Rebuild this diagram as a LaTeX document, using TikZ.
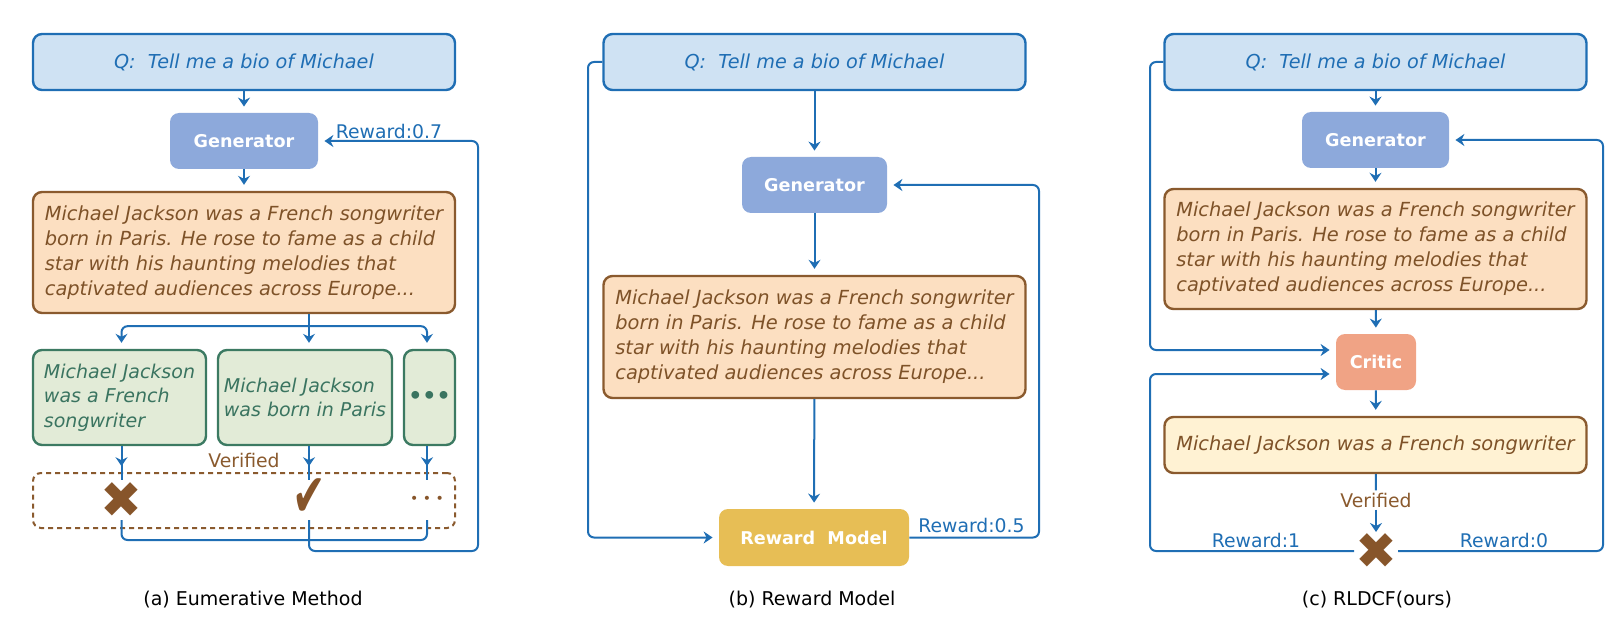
\documentclass[tikz,border=0pt]{standalone}
\usepackage{fontspec}
\setmainfont{DejaVu Sans}
\usetikzlibrary{arrows.meta,calc}
\definecolor{lblue}{HTML}{1F6EB4}
\definecolor{qfill}{HTML}{CFE2F3}
\definecolor{genfill}{HTML}{8DA9DB}
\definecolor{ofill}{HTML}{FCDFC1}
\definecolor{bbrown}{HTML}{8A5A2E}
\definecolor{tbrown}{HTML}{7E5228}
\definecolor{gfill}{HTML}{E2EBD7}
\definecolor{gborder}{HTML}{3C7A62}
\definecolor{gtext}{HTML}{3A7460}
\definecolor{gold}{HTML}{E7BE55}
\definecolor{critic}{HTML}{F0A385}
\definecolor{yfill}{HTML}{FFF2D3}
\definecolor{mbrown}{HTML}{87552A}
\begin{document}
\begin{tikzpicture}[x=0.5pt,y=-0.5pt,
 line/.style={draw=lblue, line width=1pt},
 arr/.style={line, -{Stealth[length=4.5pt,width=6pt,inset=1.5pt]}, shorten >=3pt},
 rc/.style={rounded corners=3pt},
 qbox/.style={draw=lblue, fill=qfill, line width=1.2pt, rounded corners=4.5pt, text=lblue, font=\fontsize{9.6}{12}\selectfont\itshape, minimum width=211pt, minimum height=28pt, inner sep=0pt},
 genbox/.style={fill=genfill, rounded corners=4.5pt, text=white, font=\fontsize{8.8}{10}\selectfont\bfseries, minimum height=28pt, inner sep=0pt},
 obox/.style={draw=bbrown, fill=ofill, line width=1.2pt, rounded corners=4.5pt, text=tbrown, font=\fontsize{9.7}{12.5}\selectfont\itshape, align=left, minimum width=211pt, inner sep=0pt},
 gbox/.style={draw=gborder, fill=gfill, line width=1.2pt, rounded corners=4.5pt, text=gtext, font=\fontsize{9.5}{12.3}\selectfont\itshape, align=left, minimum height=47.5pt, inner sep=0pt},
 lab/.style={text=lblue, font=\fontsize{9.4}{10}\selectfont, inner sep=0pt},
 ver/.style={text=bbrown, font=\fontsize{9.4}{10}\selectfont, inner sep=1pt},
 captext/.style={text=black, font=\fontsize{9.5}{10}\selectfont},
 xmark/.style={text=mbrown, font=\fontsize{25}{25}\selectfont, minimum width=20pt, minimum height=20pt, inner sep=0pt},
]
\useasboundingbox (0,0) rectangle (1614,626);
% ---------------- panel (a)
\node[qbox] (qa) at (244,62) {Q:\ \ Tell me a bio of Michael};
\node[genbox, minimum width=74pt] (gena) at (244,141) {Generator};
\node[obox, minimum height=60.5pt] (oa) at (244,252.5) {Michael Jackson was a French songwriter\\born in Paris. He rose to fame as a child\\star with his haunting melodies that\\captivated audiences across Europe...};
\node[gbox, minimum width=86.5pt] (g1) at (119.5,397.5) {Michael Jackson\\was a French\\songwriter};
\node[gbox, minimum width=87pt] (g2) at (305,397.5) {Michael Jackson\\was born in Paris};
\node[gbox, minimum width=25.5pt, font=\fontsize{11}{12}\selectfont\bfseries] (g3) at (429.5,397.5) {•••};
\node[draw=bbrown, dashed, dash pattern=on 2.5pt off 2pt, line width=1pt, rounded corners=4pt, minimum width=211pt, minimum height=27.5pt, inner sep=0pt] (da) at (244,500.5) {};
\node[ver] (vera) at (244,460) {Verified};
\node[xmark] (x1) at (121.5,500) {✖};
\node[xmark, font=\fontsize{20}{20}\selectfont] (c1) at (309,498) {\scalebox{1}[1.5]{✔}};
\node[xmark, font=\fontsize{7}{7}\selectfont] (d1) at (427,500) {• • •};
\node[lab] (rwa) at (389,131) {Reward:0.7};
\node[captext] (capa) at (253,600) {(a) Eumerative Method};
\draw[arr] (qa) -- (gena);
\draw[arr] (gena) -- (oa);
\draw[line] (oa.south -| c1) -- ++(0,12) coordinate (bra);
\draw[arr, rc] (bra) -| (x1 |- g1.north);
\draw[arr] (bra) -- (c1 |- g2.north);
\draw[arr, rc] (bra) -| (d1 |- g3.north);
\draw[line] (x1 |- g1.south) -- ($(x1.center)+(0,-20)$);
\draw[arr, shorten >=0pt] (x1 |- g1.south) -- ++(0,20);
\draw[line] (c1 |- g2.south) -- ($(c1.center)+(0,-18)$);
\draw[arr, shorten >=0pt] (c1 |- g2.south) -- ++(0,20);
\draw[line] (d1 |- g3.south) -- ($(d1.center)+(0,-20)$);
\draw[arr, shorten >=0pt] (d1 |- g3.south) -- ++(0,20);
\draw[line, rc] ($(x1.center)+(0,20)$) -- ++(0,20) -| ($(d1.center)+(0,20)$);
\coordinate (ra) at (478,551);
\draw[arr, rc] ($(c1.center)+(0,22)$) |- (ra) |- (gena.east);
% ---------------- panel (b)
\node[qbox] (qb) at (814.5,62) {Q:\ \ Tell me a bio of Michael};
\node[genbox, minimum width=72.5pt] (genb) at (814.5,185) {Generator};
\node[obox, minimum height=61pt] (ob) at (814.5,337) {Michael Jackson was a French songwriter\\born in Paris. He rose to fame as a child\\star with his haunting melodies that\\captivated audiences across Europe...};
\node[genbox, fill=gold, minimum width=95pt, minimum height=28.5pt] (rm) at (814,537.5) {Reward\ \ Model};
\node[lab] (rwb) at (971.5,525) {Reward:0.5};
\node[captext] (capb) at (812,600) {(b) Reward Model};
\coordinate (lb) at (588,0);
\coordinate (rb) at (1039,0);
\draw[arr] (qb) -- (genb);
\draw[arr] (genb) -- (ob);
\draw[arr] (ob) -- (rm);
\draw[arr, rc] (qb.west) -| (lb |- rm.west) -- (rm.west);
\draw[arr, rc] (rm.east) -| (rb |- genb.east) -- (genb.east);
% ---------------- panel (c)
\node[qbox] (qc) at (1375.5,62) {Q:\ \ Tell me a bio of Michael};
\node[genbox, minimum width=73.5pt] (genc) at (1375.5,140) {Generator};
\node[obox, minimum height=60pt] (oc) at (1375.5,249) {Michael Jackson was a French songwriter\\born in Paris. He rose to fame as a child\\star with his haunting melodies that\\captivated audiences across Europe...};
\node[genbox, fill=critic, minimum width=40pt] (cr) at (1376,362) {Critic};
\node[obox, fill=yfill, minimum height=28pt] (yc) at (1375.5,445) {Michael Jackson was a French songwriter};
\node[ver] (verc) at (1376,500) {Verified};
\node[xmark] (xc) at (1376,551) {✖};
\node[lab] (rw1) at (1256,540) {Reward:1};
\node[lab] (rw0) at (1504,540) {Reward:0};
\node[captext] (capc) at (1377,600) {(c) RLDCF(ours)};
\coordinate (lc) at (1150,0);
\coordinate (rcx) at (1603,0);
\draw[arr] (qc) -- (genc);
\draw[arr] (genc) -- (oc);
\draw[arr] (oc) -- (cr);
\draw[arr] (cr) -- (yc);
\draw[line] (yc) -- (verc);
\draw[arr, shorten >=0pt] (verc) -- ($(xc.center)+(0,-19)$);
\draw[arr, rc] (qc.west) -| ($(lc |- cr.west)+(0,-12)$) -- ($(cr.west)+(0,-12)$);
\draw[arr, rc] ($(xc.center)+(-22,0)$) -| ($(lc |- cr.west)+(0,12)$) -- ($(cr.west)+(0,12)$);
\draw[arr, rc] ($(xc.center)+(22,0)$) -| (rcx |- genc.east) -- (genc.east);
\end{tikzpicture}
\end{document}
